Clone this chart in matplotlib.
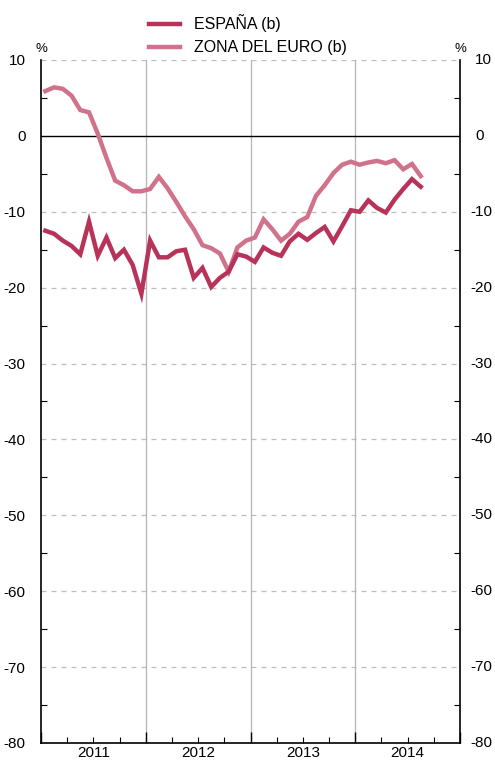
import numpy as np
import matplotlib.pyplot as plt
from matplotlib.ticker import MultipleLocator
from matplotlib.transforms import blended_transform_factory

plt.rcParams['font.family'] = ['Liberation Sans', 'DejaVu Sans']
plt.rcParams['axes.unicode_minus'] = False

# monthly data, Jan 2011 - Aug 2014 (%)
years = ["2011", "2012", "2013", "2014"]
espana = [-12.5, -12.9, -13.8, -14.5, -15.6, -11.3, -15.8, -13.4, -16.1, -15.0, -17.0, -20.8,
          -13.8, -16.0, -16.0, -15.2, -15.0, -18.7, -17.4, -19.9, -18.7, -17.9, -15.6, -15.9,
          -16.6, -14.7, -15.4, -15.8, -13.9, -12.9, -13.7, -12.8, -12.0, -13.9, -11.9, -9.8,
          -10.0, -8.5, -9.5, -10.1, -8.4, -7.0, -5.7, -6.7]
zona_euro = [5.9, 6.4, 6.2, 5.3, 3.4, 3.1, 0.3, -2.9, -5.9, -6.5, -7.3, -7.3,
             -7.0, -5.4, -6.9, -8.7, -10.6, -12.3, -14.4, -14.8, -15.5, -17.9, -14.7, -13.8,
             -13.4, -11.0, -12.3, -13.8, -12.9, -11.3, -10.7, -7.9, -6.5, -4.9, -3.8, -3.4,
             -3.8, -3.5, -3.3, -3.6, -3.2, -4.4, -3.7, -5.3]
y_ticks = list(range(-80, 11, 10))

x = np.arange(len(espana)) + 0.5

fig = plt.figure(figsize=(4.95, 7.61), dpi=100)
ax = fig.add_axes([41 / 495, 18 / 761, 419 / 495, 683 / 761])

# grid
for yv in y_ticks:
    if yv != 0:
        ax.axhline(yv, color='#bdbdbd', lw=0.9, ls=(0, (4, 4)), zorder=1)
ax.axhline(0, color='black', lw=1.0, zorder=2)
for xv in [12, 24, 36]:
    ax.axvline(xv, color='#b5b5b5', lw=0.9, zorder=1)

ax.plot(x, espana, color='#b8335a', lw=3.2, label='ESPAÑA (b)', zorder=4,
        solid_joinstyle='miter')
ax.plot(x, zona_euro, color='#d0728c', lw=3.2, label='ZONA DEL EURO (b)', zorder=3,
        solid_joinstyle='miter')

ax.set_xlim(0, 48)
ax.set_ylim(-80, 10)

ax.spines['top'].set_visible(False)
for s in ['left', 'right', 'bottom']:
    ax.spines[s].set_linewidth(1.2)

ax.set_yticks(y_ticks)
ax.yaxis.set_minor_locator(MultipleLocator(5))
ax.tick_params(axis='y', which='both', direction='in', length=4, width=0.8,
               left=True, right=True, labelleft=True, labelright=False,
               labelsize=11)
ax.tick_params(axis='y', which='major', length=0, pad=11)

# right-hand labels: digits left aligned, minus sign hanging out
tr = blended_transform_factory(ax.transAxes, ax.transData)
for yv in y_ticks:
    off = 15 if yv >= 0 else 10
    ax.text(1 + off / 419, yv, str(yv), transform=tr, ha='left', va='center',
            fontsize=11, clip_on=False)

ax.xaxis.set_major_locator(MultipleLocator(12))
ax.xaxis.set_minor_locator(MultipleLocator(3))
ax.tick_params(axis='x', which='major', direction='in', length=8, width=1.0,
               labelbottom=False)
ax.tick_params(axis='x', which='minor', direction='in', length=4, width=0.8)

for i, yr in enumerate(years):
    ax.text(6 + 12 * i, -0.004, yr, transform=ax.get_xaxis_transform(),
            ha='center', va='top', fontsize=11)

ax.text(0, 1.008, '%', transform=ax.transAxes, ha='center', va='bottom', fontsize=9.5)
ax.text(1, 1.008, '%', transform=ax.transAxes, ha='center', va='bottom', fontsize=9.5)

fig.legend(loc='upper left', bbox_to_anchor=(143 / 495, 1 - 8 / 761), frameon=False,
           fontsize=11.5, handlelength=1.9, handletextpad=0.9, labelspacing=0.5,
           borderaxespad=0)

fig.savefig('out.png', dpi=100)
